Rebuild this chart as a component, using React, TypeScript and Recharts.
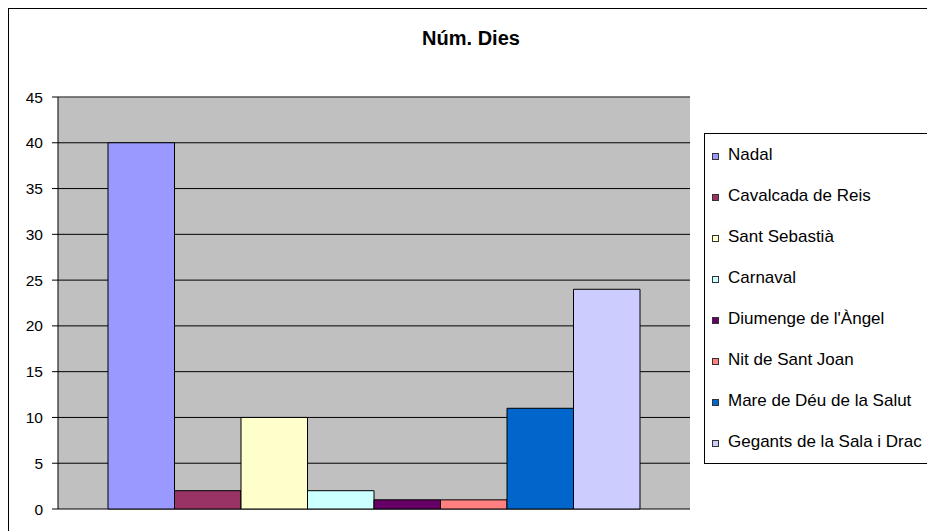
import React from 'react';
import {
  Bar,
  BarChart,
  CartesianGrid,
  ReferenceLine,
  XAxis,
  YAxis,
} from 'recharts';

const categories = ['Núm. Dies'];
const seriesNames = [
  'Nadal',
  'Cavalcada de Reis',
  'Sant Sebastià',
  'Carnaval',
  "Diumenge de l'Àngel",
  'Nit de Sant Joan',
  'Mare de Déu de la Salut',
  'Gegants de la Sala i Drac',
];
const seriesValues = [40, 2, 10, 2, 1, 1, 11, 24];
const seriesColors = [
  '#9999FF',
  '#993366',
  '#FFFFCC',
  '#CCFFFF',
  '#660066',
  '#FF8080',
  '#0066CC',
  '#CCCCFF',
];
const yTicks = [0, 5, 10, 15, 20, 25, 30, 35, 40, 45];

const FONT = '"Liberation Sans", Arial, sans-serif';

const data = categories.map((name) => {
  const row: Record<string, string | number> = { name };
  seriesNames.forEach((s, i) => {
    row[s] = seriesValues[i];
  });
  return row;
});

// legend box, same order as the series (Excel style, runs off the right edge)
function LegendBox() {
  return (
    <div
      style={{
        position: 'absolute',
        left: 704,
        top: 133,
        width: 223,
        height: 331,
        overflow: 'hidden',
        boxSizing: 'border-box',
        borderLeft: '1px solid #000',
        borderTop: '1px solid #000',
        borderBottom: '1px solid #000',
        background: '#fff',
        fontFamily: FONT,
        fontSize: 17,
        color: '#000',
      }}
    >
      {seriesNames.map((s, i) => (
        <div
          key={s}
          style={{
            height: 41.1,
            display: 'flex',
            alignItems: 'center',
            paddingLeft: 7,
            whiteSpace: 'nowrap',
          }}
        >
          <span
            style={{
              display: 'inline-block',
              flex: 'none',
              width: 5,
              height: 5,
              marginTop: 3,
              border: '1px solid #333',
              background: seriesColors[i],
              marginRight: 9,
            }}
          />
          {s}
        </div>
      ))}
    </div>
  );
}

export default function App() {
  return (
    <div
      style={{
        position: 'fixed',
        left: 0,
        top: 0,
        width: 927,
        height: 531,
        overflow: 'hidden',
        background: '#fff',
      }}
    >
      <div
        style={{
          position: 'absolute',
          left: 8,
          top: 8,
          width: 1000,
          height: 600,
          borderLeft: '1px solid #000',
          borderTop: '1px solid #000',
        }}
      />
      <div
        style={{
          position: 'absolute',
          left: 371,
          top: 28,
          width: 200,
          textAlign: 'center',
          fontFamily: FONT,
          fontWeight: 'bold',
          fontSize: 20,
          lineHeight: '20px',
          color: '#000',
        }}
      >
        Núm. Dies
      </div>
      <div style={{ position: 'absolute', left: 0, top: 0 }}>
        <BarChart
          width={927}
          height={531}
          data={data}
          margin={{ top: 97, right: 237, bottom: 22, left: 0 }}
          barSize={66.5}
          barGap={0}
        >
          <CartesianGrid
            vertical={false}
            stroke="#000"
            fill="#C0C0C0"
            fillOpacity={1}
          />
          <XAxis dataKey="name" hide />
          <YAxis
            domain={[0, 45]}
            ticks={yTicks}
            interval={0}
            width={58}
            tickSize={6}
            tickMargin={9}
            axisLine={{ stroke: '#000' }}
            tickLine={{ stroke: '#000' }}
            tick={{ fill: '#000', fontSize: 15.5, fontFamily: FONT }}
          />
          <YAxis
            yAxisId="frame"
            orientation="right"
            domain={[0, 45]}
            width={0}
            tick={false}
            tickLine={false}
            axisLine={{ stroke: '#808080' }}
          />
          <ReferenceLine y={45} stroke="#808080" />
          {seriesNames.map((s, i) => (
            <Bar
              key={s}
              dataKey={s}
              fill={seriesColors[i]}
              stroke="#000"
              strokeWidth={1}
              isAnimationActive={false}
            />
          ))}
        </BarChart>
      </div>
      <LegendBox />
    </div>
  );
}
